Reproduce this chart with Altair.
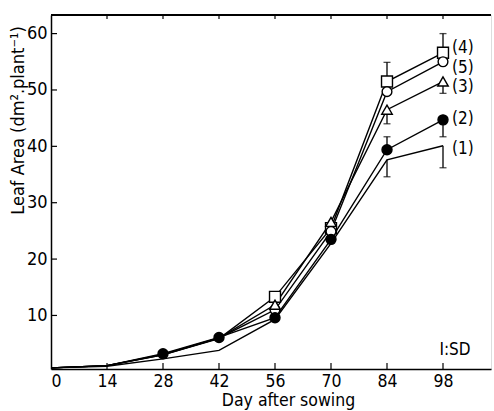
import altair as alt
import pandas as pd

days = [0, 14, 28, 42, 56, 70, 84, 98]
s1 = [0.7, 1.0, 2.3, 3.8, 9.3, 22.8, 37.6, 40.1]
s2 = [0.7, 1.1, 3.2, 6.1, 9.6, 23.5, 39.4, 44.7]
s3 = [0.7, 1.1, 3.1, 6.0, 11.9, 26.6, 46.5, 51.5]
s4 = [0.7, 1.1, 3.0, 5.9, 13.3, 25.5, 51.5, 56.6]
s5 = [0.7, 1.1, 3.0, 6.0, 11.0, 24.9, 49.7, 55.0]
series_names = ["(1)", "(2)", "(3)", "(4)", "(5)"]
series_vals = [s1, s2, s3, s4, s5]

err_series = ["(4)", "(4)", "(3)", "(3)", "(2)", "(2)", "(1)", "(1)"]
err_day = [84, 98, 84, 98, 84, 98, 84, 98]
err_end = [54.9, 60.0, 44.0, 49.4, 41.7, 41.7, 34.6, 36.2]

label_names = ["(4)", "(5)", "(3)", "(2)", "(1)"]
label_y = [57.4, 53.9, 50.6, 44.9, 39.6]

x_ticks = [0, 14, 28, 42, 56, 70, 84, 98]
y_ticks = [10, 20, 30, 40, 50, 60]

FONT = "DejaVu Sans Condensed, DejaVu Sans"
W, H = 440, 354

rows = []
for name, vals in zip(series_names, series_vals):
    for d, v in zip(days, vals):
        rows.append({"series": name, "day": d, "value": v})
df = pd.DataFrame(rows)

lookup = {(r["series"], r["day"]): r["value"] for r in rows}
edf = pd.DataFrame({
    "series": err_series, "day": err_day, "end": err_end,
    "value": [lookup[(s, d)] for s, d in zip(err_series, err_day)],
})
ldf = pd.DataFrame({"label": label_names, "y": label_y, "day": [98] * 5})

xs = alt.Scale(domain=[0, 110], nice=False, zero=False)
ys = alt.Scale(domain=[0.5, 63.3], nice=False, zero=False)

X = alt.X("day:Q", scale=xs, axis=alt.Axis(
    values=x_ticks, ticks=False, grid=False, labelPadding=3,
    labelFontSize=17.5, labelFont=FONT, labelColor="black",
    domainColor="black", domainWidth=1.5,
    title="Day after sowing", titleFont=FONT, titleFontSize=17.5,
    titleFontWeight="normal", titleColor="black",
    titleX=237, titleY=31, titleBaseline="middle", titleAlign="center"))
Y = alt.Y("value:Q", scale=ys, axis=alt.Axis(
    values=y_ticks, ticks=False, grid=False, labelPadding=4,
    labelFontSize=18, labelFont=FONT, labelColor="black",
    domainColor="black", domainWidth=1.5,
    title="Leaf  Area (dm\u00b2.plant\u207b\u00b9)", titleFont=FONT,
    titleFontSize=18, titleFontWeight="normal", titleColor="black",
    titleX=-33, titleY=105, titleBaseline="middle", titleAlign="center"))

base = alt.Chart(df)

lines = base.mark_line(color="black", strokeWidth=1.4).encode(
    x=X, y=Y, detail="series:N", order="day:Q")

top_axis = alt.Chart(pd.DataFrame({"day": x_ticks})).mark_rule(
    color="black", strokeWidth=1.3).encode(
    x=alt.value(0), x2=alt.value(W), y=alt.value(0))

xt_bottom = alt.Chart(pd.DataFrame({"day": x_ticks[1:]})).mark_rule(
    color="black", strokeWidth=1.2).encode(
    x=alt.X("day:Q", scale=xs), y=alt.value(H), y2=alt.value(H - 6))
xt_top = alt.Chart(pd.DataFrame({"day": x_ticks[1:]})).mark_rule(
    color="black", strokeWidth=1.2).encode(
    x=alt.X("day:Q", scale=xs), y=alt.value(0), y2=alt.value(4))
yt_left = alt.Chart(pd.DataFrame({"value": y_ticks})).mark_rule(
    color="black", strokeWidth=1.2).encode(
    y=alt.Y("value:Q", scale=ys), x=alt.value(0), x2=alt.value(6))

err = alt.Chart(edf).mark_rule(color="black", strokeWidth=1.3).encode(
    x=alt.X("day:Q", scale=xs), y=alt.Y("value:Q", scale=ys), y2="end:Q")
caps = alt.Chart(edf).mark_tick(color="black", orient="horizontal",
                                size=7, thickness=1.3).encode(
    x=alt.X("day:Q", scale=xs), y=alt.Y("end:Q", scale=ys))

def markers(name, shape, filled, size, start):
    return base.transform_filter(
        (alt.datum.series == name) & (alt.datum.day >= start)
    ).mark_point(shape=shape, filled=True,
                 fill="black" if filled else "white",
                 stroke="black", strokeWidth=1.4, size=size, opacity=1).encode(
        x=alt.X("day:Q", scale=xs), y=alt.Y("value:Q", scale=ys))

m4 = markers("(4)", "square", False, 120, 56)
m5 = markers("(5)", "circle", False, 95, 56)
m3 = markers("(3)", "triangle-up", False, 110, 56)
m2 = markers("(2)", "circle", True, 100, 28)

labels = alt.Chart(ldf).mark_text(align="left", baseline="middle", dx=9,
                                  font=FONT, fontSize=17, color="black").encode(
    x=alt.X("day:Q", scale=xs), y=alt.Y("y:Q", scale=ys), text="label:N")

note = alt.Chart(pd.DataFrame({"t": ["I:SD"]})).mark_text(
    align="center", baseline="middle", font=FONT, fontSize=17,
    color="black").encode(x=alt.value(404), y=alt.value(335), text="t:N")

chart = alt.layer(
    lines, top_axis, xt_bottom, xt_top, yt_left, err, caps,
    m4, m5, m3, m2, labels, note
).properties(
    width=W, height=H,
    autosize=alt.AutoSizeParams(type="none"),
    padding={"left": 51, "top": 15, "right": 3, "bottom": 42},
).configure_view(stroke=None).configure(background="white")

chart.save("out.html", embed_options={"renderer": "svg", "actions": False})
